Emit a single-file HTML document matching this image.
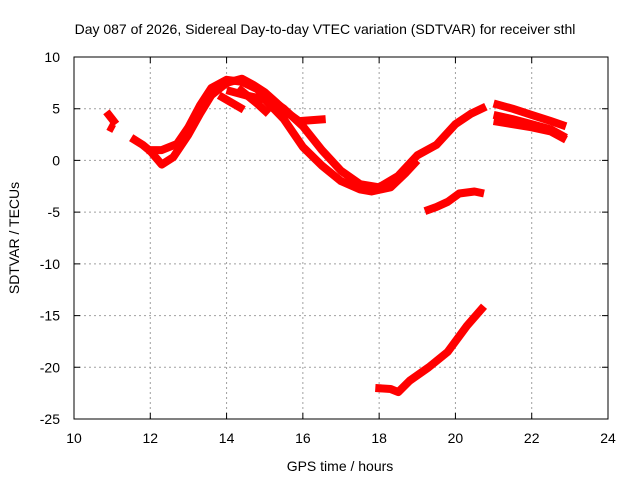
<!DOCTYPE html>
<html><head><meta charset="utf-8"><style>
body{margin:0;background:#fff}
svg{display:block;font-family:"Liberation Sans",sans-serif}
</style></head><body>
<svg id="chart" width="640" height="480" viewBox="0 0 640 480">
<text x="325" y="34" font-size="14" text-anchor="middle">Day 087 of 2026, Sidereal Day-to-day VTEC variation (SDTVAR) for receiver sthl</text>
<g id="grid"></g>
<g id="axes"></g>
<g id="series"></g>
<text x="340" y="471" font-size="14" text-anchor="middle">GPS time / hours</text>
<text x="0" y="0" font-size="14" text-anchor="middle" transform="translate(19,238) rotate(-90)">SDTVAR / TECUs</text>
</svg>
<script>
const xTicks=[10,12,14,16,18,20,22,24];
const yTicks=[10,5,0,-5,-10,-15,-20,-25];
const s1x=[10.85,11.0,11.1];const s1y=[4.7,4.0,3.5];
const s2x=[10.9,11.05];const s2y=[3.3,3.0];
const s3x=[11.5,11.8,12.0,12.3,12.6,13.0,13.3,13.6,14.0,14.4,14.7,15.0,15.3,15.6,15.9,16.6];
const s3y=[2.2,1.5,0.9,-0.4,0.3,2.5,4.5,6.3,7.5,7.9,7.3,6.6,5.6,4.6,3.8,4.0];
const s4x=[11.9,12.3,12.7,13.0,13.3,13.6,14.0,14.4,14.8,15.0,15.5,16.0,16.5,17.0,17.5,18.0,18.5,19.0,19.5,20.0,20.4,20.8];
const s4y=[1.0,1.0,1.6,3.2,5.3,7.0,7.8,7.6,6.9,6.3,5.0,3.3,1.0,-1.0,-2.3,-2.6,-1.5,0.5,1.5,3.5,4.5,5.2];
const s5x=[14.0,14.5,15.0,15.5,16.0,16.5,17.0,17.5,17.8,18.3,18.7,19.0];
const s5y=[6.8,6.3,5.9,4.0,1.3,-0.5,-2.0,-2.8,-3.0,-2.6,-1.2,0.0];
const s6x=[13.8,14.45];const s6y=[6.3,4.9];
const s7x=[14.3,14.8,15.1];const s7y=[7.0,5.5,4.5];
const s8x=[21.0,21.5,22.0,22.5,22.9];const s8y=[5.5,5.0,4.4,3.8,3.3];
const s9x=[21.0,21.5,22.0,22.5,22.9];const s9y=[4.4,4.0,3.5,3.0,2.2];
const s10x=[21.0,21.5,22.0,22.5,22.9];const s10y=[3.8,3.5,3.2,2.8,2.0];
const s11x=[19.2,19.5,19.8,20.1,20.5,20.75];const s11y=[-4.9,-4.5,-4.0,-3.2,-3.0,-3.2];
const s12x=[17.9,18.3,18.5,18.8,19.3,19.8,20.3,20.75];const s12y=[-22.0,-22.1,-22.4,-21.3,-20.0,-18.5,-16.0,-14.1];
const allSeries=[[s1x,s1y],[s2x,s2y],[s3x,s3y],[s4x,s4y],[s5x,s5y],[s6x,s6y],[s7x,s7y],[s8x,s8y],[s9x,s9y],[s10x,s10y],[s11x,s11y],[s12x,s12y]];
const L=74,R=608,T=57,B=419;
const X=h=>L+(h-10)*(R-L)/14;
const Y=v=>T+(10-v)*(B-T)/35;
const NS="http://www.w3.org/2000/svg";
function mk(tag,attrs,parent){const e=document.createElementNS(NS,tag);for(const k in attrs)e.setAttribute(k,attrs[k]);parent.appendChild(e);return e;}
const grid=document.getElementById('grid'),axes=document.getElementById('axes'),ser=document.getElementById('series');
xTicks.forEach(t=>{const x=X(t);
 if(t>10&&t<24){const g=mk('line',{x1:x,x2:x,y1:T,y2:B,stroke:'#a0a0a0','stroke-dasharray':'2,3'},grid);
 
 }
 const tk=mk('path',{d:`M${x},${B}v-6M${x},${T}v6`,stroke:'#000'},axes);
 
 
 const lb=mk('text',{x:x,y:B+24,'font-size':14,'text-anchor':'middle'},axes);lb.textContent=t;
 
 
});
yTicks.forEach(t=>{const y=Y(t);
 if(t<10&&t>-25){const g=mk('line',{x1:L,x2:R,y1:y,y2:y,stroke:'#a0a0a0','stroke-dasharray':'2,3'},grid);
 
 }
 const tk=mk('path',{d:`M${L},${y}h6M${R},${y}h-6`,stroke:'#000'},axes);
 
 
 const lb=mk('text',{x:L-14,y:y+5,'font-size':14,'text-anchor':'end'},axes);lb.textContent=t;
 
 
});
const fr=mk('rect',{x:L,y:T,width:R-L,height:B-T,fill:'none',stroke:'#000'},axes);


allSeries.forEach(([xs,ys])=>{
 const pts=xs.map((h,i)=>X(h).toFixed(1)+','+Y(ys[i]).toFixed(1)).join(' ');
 const pl=mk('polyline',{points:pts,fill:'none',stroke:'#ff0000','stroke-width':8,'stroke-linejoin':'round','stroke-linecap':'butt'},ser);
 
 
});
</script>
</body></html>
